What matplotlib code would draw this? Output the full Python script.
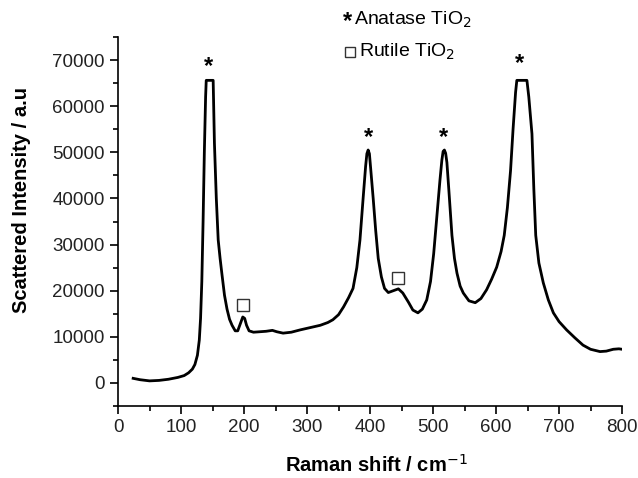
import numpy as np
import matplotlib
matplotlib.use('Agg')
from matplotlib import pyplot as plt
from matplotlib.ticker import MultipleLocator

plt.rcParams['font.family'] = ['Liberation Sans', 'DejaVu Sans']

# Raman spectrum
shift = [24, 35, 50, 65, 80, 95, 105, 112, 118, 122, 126, 129, 131, 133, 135, 137, 139, 140,
         151, 153, 156, 159, 162, 165, 169, 173, 177, 181, 186, 190, 194, 198, 201, 204, 208,
         215, 225, 235, 245, 252, 262, 275, 289, 305, 321, 333, 341, 350, 358, 366, 373, 379,
         384, 389, 393, 395, 397, 399, 401, 405, 409, 413, 418, 423, 429, 437, 445, 452, 461,
         468, 476, 483, 490, 496, 501, 506, 511, 514, 516, 518, 520, 522, 525, 530, 534, 538,
         543, 548, 557, 567, 576, 585, 593, 601, 608, 613, 618, 623, 627, 631, 633, 649, 652,
         657, 660, 663, 668, 675, 683, 691, 700, 712, 725, 738, 750, 765, 775, 786, 795, 800]
intensity = [1000, 700, 450, 550, 800, 1200, 1600, 2200, 3000, 4000, 6000, 9300, 14000, 22000,
             35000, 50000, 62000, 65600,
             65600, 52000, 40000, 31000, 27000, 23500, 19000, 16000, 13800, 12500, 11300, 11300,
             12800, 14300, 14000, 12500, 11300,
             11000, 11100, 11200, 11400, 11100, 10800, 11000, 11500, 12000, 12500, 13100, 13700,
             14800, 16500, 18500, 20500, 25000,
             31000, 40000, 47000, 49700, 50500, 49700, 46500, 40000, 33000, 27000, 23000, 20500,
             19600, 20000, 20400, 19500, 17500,
             15800, 15200, 16000, 18000, 22000, 28000, 36000, 44000, 48300, 50200, 50500, 49800,
             47800, 42000, 32000, 27000, 23800,
             21000, 19500, 17800, 17400, 18300, 20200, 22500, 25100, 28500, 32000, 38000, 46000,
             55000, 63000, 65600, 65600, 62000,
             54000, 42000, 32000, 26000, 21700, 18000, 15200, 13300, 11500, 9800, 8200, 7300,
             6800, 6900, 7300, 7400, 7300]

# peak markers
anatase_x = [144, 397, 517, 638]
anatase_y = [68700, 53100, 53100, 69300]
rutile_x = [199, 445]
rutile_y = [16900, 22750]

fig = plt.figure(figsize=(6.38, 4.78), dpi=100)
ax = fig.add_axes([0.185, 0.1506, 0.79, 0.772])

ax.plot(shift, intensity, color='black', lw=2, solid_joinstyle='round')

for x, y in zip(anatase_x, anatase_y):
    ax.text(x, y, '*', ha='center', va='center', fontsize=17, fontweight='bold')
ax.plot(rutile_x, rutile_y, 's', ms=8, mfc='white', mec='#333333', mew=1)

# legend-like text above the axes
ax.text(365, 78400, '*', ha='center', va='center', fontsize=17, fontweight='bold', clip_on=False)
ax.text(375, 78700, 'Anatase TiO$_2$', ha='left', va='center', fontsize=14, clip_on=False)
ax.plot([368], [71800], 's', ms=7, mfc='white', mec='#333333', mew=1, clip_on=False)
ax.text(383, 71800, 'Rutile TiO$_2$', ha='left', va='center', fontsize=14, clip_on=False)

ax.set_xlim(0, 800)
ax.set_ylim(-5000, 75000)
ax.xaxis.set_major_locator(MultipleLocator(100))
ax.xaxis.set_minor_locator(MultipleLocator(50))
ax.yaxis.set_major_locator(MultipleLocator(10000))
ax.yaxis.set_minor_locator(MultipleLocator(5000))
ax.set_yticks(range(0, 70001, 10000))

for s in ['top', 'right']:
    ax.spines[s].set_visible(False)
for s in ['left', 'bottom']:
    ax.spines[s].set_linewidth(1.2)
ax.tick_params(which='major', direction='out', length=6, width=1.2, labelsize=13.5,
               colors='black', pad=3.5)
ax.tick_params(which='minor', direction='out', length=3.5, width=1.2)
for lab in ax.get_xticklabels() + ax.get_yticklabels():
    lab.set_color('#222222')

ax.set_xlabel('Raman shift / cm$^{-1}$', fontsize=14.5, fontweight='bold')
ax.set_ylabel('Scattered Intensity / a.u', fontsize=14.5, fontweight='bold')
ax.xaxis.set_label_coords(0.512, -0.16)
ax.yaxis.set_label_coords(-0.192, 0.558)
ax.xaxis.label.set_va('center')
ax.yaxis.label.set_va('center')

fig.savefig('out.png', dpi=100)
